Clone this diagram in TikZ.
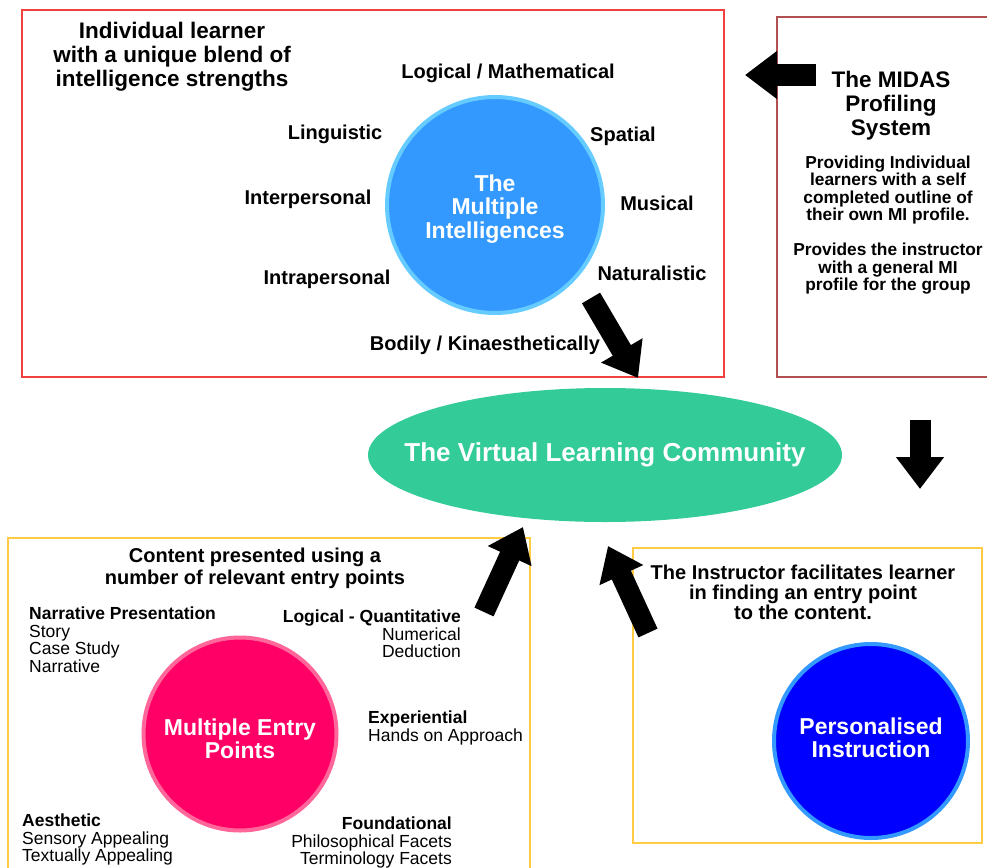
\documentclass[tikz,border=0pt]{standalone}
\usepackage{fontspec}
\setmainfont{Liberation Sans}
\usetikzlibrary{arrows.meta,shapes.geometric}
\definecolor{boxred}{HTML}{F04040}
\definecolor{midasred}{HTML}{B05050}
\definecolor{boxyellow}{HTML}{FFCC44}
\definecolor{migreen}{HTML}{33CC99}
\definecolor{miblue}{HTML}{3399FF}
\definecolor{miring}{HTML}{66CCFF}
\definecolor{eppink}{HTML}{FF0066}
\definecolor{epring}{HTML}{FF6699}
\definecolor{piblue}{HTML}{0000FF}
\def\FS#1#2{\fontsize{#1}{#2}\selectfont}

\begin{document}
\begin{tikzpicture}[x=1pt,y=-1pt,
  lbl/.style={font=\bfseries\FS{20}{22}},
  head/.style={font=\bfseries\FS{22.5}{24},align=center},
  note/.style={font=\FS{17.5}{17.5},inner sep=0pt},
  blob/.style={circle,line width=4pt},
  blobtxt/.style={text=white,align=center,font=\bfseries\FS{23}{23.5}},
  fat/.style={line width=21pt,-{Triangle[length=32pt,width=46pt]}}]
\useasboundingbox (0,0) rectangle (987,867);
% the three frames
\draw[boxred,line width=1.5pt] (22,10) rectangle (724,377);
\draw[midasred,line width=1.2pt] (995,17) -- (777,17) -- (777,377) -- (995,377);
\draw[boxyellow,line width=1.5pt] (8,880) -- (8,538) -- (530,538) -- (530,880);
\draw[boxyellow,line width=1.5pt] (633,548) rectangle (982,843);

% top: the multiple intelligences
\node[head] (learner) at (172,57) {Individual learner\\with a unique blend of\\intelligence strengths};
\node[blob,minimum size=216pt,fill=miblue,draw=miring,
  label={[blobtxt,yshift=-4pt]center:{The\\Multiple\\Intelligences}}] (mi) at (495,205) {};
\node[lbl] (logic) at (508,73) {Logical / Mathematical};
\node[lbl] (ling) at (335,134) {Linguistic};
\node[lbl] (spat) at (623,136) {Spatial};
\node[lbl] (inter) at (308,199) {Interpersonal};
\node[lbl] (music) at (657,203) {Musical};
\node[lbl] (intra) at (327,279) {Intrapersonal};
\node[lbl] (nat) at (652,273) {Naturalistic};
\node[lbl] (body) at (485,345) {Bodily / Kinaesthetically};

% MIDAS
\node[head] (midas) at (891,106) {The MIDAS\\Profiling\\System};
\node[font=\bfseries\FS{17.3}{17.5},align=center] (prov) at (888,225)
  {Providing Individual\\learners with a self\\completed outline of\\their own MI profile.\\[17.5pt]
   Provides the instructor\\with a general MI\\profile for the group};

% centre
\node[ellipse,fill=migreen,minimum width=474pt,minimum height=134pt,inner xsep=-36pt,
  text=white,font=\bfseries\FS{26}{28}] (vlc) at (605,455) {The Virtual Learning Community};

% bottom left: entry points
\node[font=\bfseries\FS{20}{22},align=center] (content) at (255,568)
  {Content presented using a\\number of relevant entry points};
\node[blob,minimum size=193pt,fill=eppink,draw=epring,
  label={[blobtxt,yshift=-5pt]center:{Multiple Entry\\Points}}] (mep) at (240,734) {};
\node[note,align=left,anchor=north west] (narr) at (29,607)
  {\textbf{Narrative Presentation}\\Story\\Case Study\\Narrative};
\node[note,align=right,anchor=north east] (lq) at (461,610)
  {\textbf{Logical - Quantitative}\\Numerical\\Deduction};
\node[note,align=left,anchor=north west] (exp) at (368,711)
  {\textbf{Experiential}\\Hands on Approach};
\node[note,align=left,anchor=north west] (aes) at (22,814)
  {\textbf{Aesthetic}\\Sensory Appealing\\Textually Appealing};
\node[note,align=right,anchor=north east] (found) at (452,817)
  {\textbf{Foundational}\\Philosophical Facets\\Terminology Facets};

% bottom right: instruction
\node[font=\bfseries\FS{20}{20},align=center] (facil) at (803,592)
  {The Instructor facilitates learner\\in finding an entry point\\to the content.};
\node[blob,minimum size=194pt,fill=piblue,draw=miblue,
  label={[blobtxt,yshift=3pt]center:{Personalised\\Instruction}}] (pi) at (871,741) {};

% block arrows
\coordinate (midasL) at (816,75);
\coordinate (miR) at (745,75);
\coordinate (miB) at (591,298);
\coordinate (vlcT) at (638,378);
\coordinate (downT) at (920,420);
\coordinate (downB) at (920,489);
\coordinate (mepT) at (484,612);
\coordinate (vlcL) at (523,527);
\coordinate (piT) at (648,633);
\coordinate (vlcR) at (608,546);
\draw[fat] (midasL) -- (miR);
\draw[fat] (miB) -- (vlcT);
\draw[fat] (downT) -- (downB);
\draw[fat] (mepT) -- (vlcL);
\draw[fat] (piT) -- (vlcR);
\end{tikzpicture}
\end{document}
